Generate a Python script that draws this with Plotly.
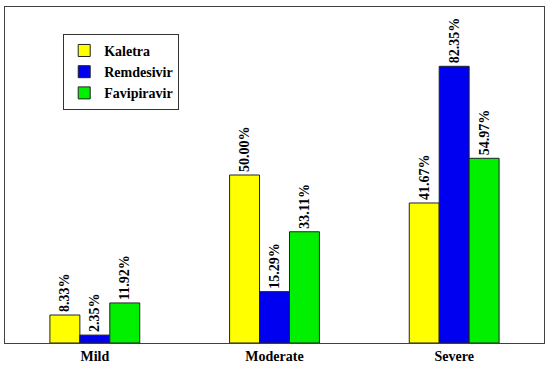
import plotly.graph_objects as go

categories = ["Mild", "Moderate", "Severe"]
series_names = ["Kaletra", "Remdesivir", "Favipiravir"]
kaletra = [8.33, 50.00, 41.67]
remdesivir = [2.35, 15.29, 82.35]
favipiravir = [11.92, 33.11, 54.97]
colors = ["#FFFF00", "#0000F0", "#00F000"]

FONT = "Liberation Serif"

fig = go.Figure()
for name, vals, col in zip(series_names, [kaletra, remdesivir, favipiravir], colors):
    fig.add_trace(go.Bar(
        name=f"<b>{name}</b>", x=categories, y=vals,
        marker=dict(color=col, line=dict(color="#222222", width=1)),
        texttemplate="<b>%{y:.2f}%</b>", textposition="outside", textangle=-90,
        constraintext="none", cliponaxis=False,
        textfont=dict(family=FONT, size=14, color="black"),
    ))

fig.update_layout(
    width=550, height=373,
    margin=dict(l=5, r=6, t=7, b=30),
    paper_bgcolor="white", plot_bgcolor="white",
    barmode="group", bargap=0.5, bargroupgap=0,
    showlegend=True,
    legend=dict(
        x=0.108, y=0.92, xanchor="left", yanchor="top",
        bgcolor="white", bordercolor="#333333", borderwidth=1,
        font=dict(family=FONT, size=14, color="black"),
        itemwidth=30, tracegroupgap=0,
    ),
    font=dict(family=FONT, color="black"),
)
fig.update_xaxes(
    showline=True, linecolor="#404040", linewidth=1, mirror=True,
    ticks="", tickfont=dict(family=FONT, size=14, color="black"),
    tickvals=categories, ticktext=[f"<b>{c}</b>" for c in categories],
    showgrid=False,
)
fig.update_yaxes(
    range=[0, 100], showline=True, linecolor="#404040", linewidth=1, mirror=True,
    showticklabels=False, ticks="", showgrid=False, zeroline=False,
)

fig.write_html("out.html", config={"displayModeBar": False},
               post_script="document.body.style.margin='0';")
